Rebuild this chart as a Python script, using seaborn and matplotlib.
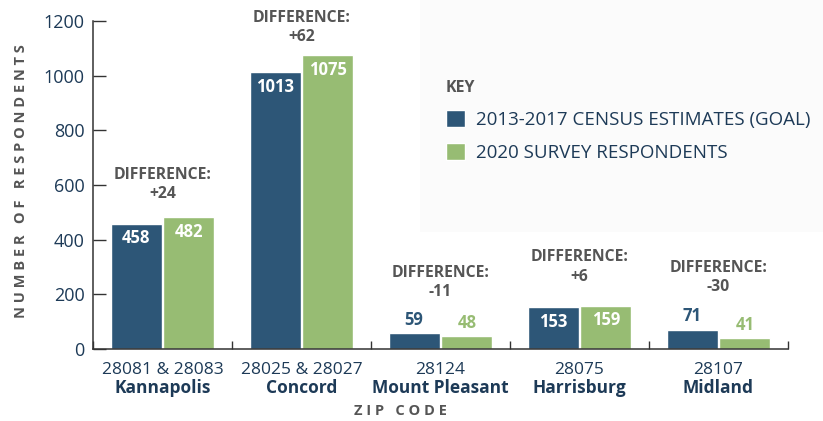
import matplotlib
matplotlib.use("Agg")
import pandas as pd
import matplotlib.pyplot as plt
import seaborn as sns
from matplotlib.patches import Rectangle
from matplotlib.transforms import blended_transform_factory


# ==========================
# data
# ==========================
zip_codes = ["28081 & 28083", "28025 & 28027", "28124", "28075", "28107"]
cities = ["Kannapolis", "Concord", "Mount Pleasant", "Harrisburg", "Midland"]
census_goal = [458, 1013, 59, 153, 71]
survey_2020 = [482, 1075, 48, 159, 41]
series_names = ["2013-2017 CENSUS ESTIMATES (GOAL)", "2020 SURVEY RESPONDENTS"]
y_ticks = [0, 200, 400, 600, 800, 1000, 1200]

# layout: where the "DIFFERENCE" notes sit (data units)
diff_label_y = [602, 1176, 243, 300, 262]

df = pd.DataFrame({
    "zip": zip_codes * 2,
    "count": census_goal + survey_2020,
    "series": [series_names[0]] * len(zip_codes) + [series_names[1]] * len(zip_codes),
})

# ==========================
# style
# ==========================
sns.set_theme(style="white")
plt.rcParams["font.family"] = ["Open Sans", "DejaVu Sans"]

navy = "#1d3a57"
blue = "#2d5677"
green = "#97bc73"
grey = "#555555"

fig = plt.figure(figsize=(8.23, 4.21), dpi=100)
fig.patch.set_facecolor("white")
fig.add_artist(Rectangle((420 / 823, 1 - 232 / 421), 403 / 823, 232 / 421,
                         transform=fig.transFigure, facecolor="#fbfbfb",
                         edgecolor="none", zorder=-10))

ax = fig.add_axes([93 / 823, 72 / 421, 695 / 823, 328 / 421])
ax.patch.set_alpha(0)

sns.barplot(data=df, x="zip", y="count", hue="series", palette=[blue, green],
            width=0.76, gap=0.035, saturation=1, ax=ax)

handles, labels = ax.get_legend_handles_labels()
ax.legend_.remove()

# value labels
for cont, col in zip(ax.containers, [blue, green]):
    for bar in cont:
        h = bar.get_height()
        xc = bar.get_x() + bar.get_width() / 2
        if h > 100:
            ax.annotate(f"{h:.0f}", (xc, h), xytext=(0, -4), textcoords="offset points",
                        ha="center", va="top", color="white", fontsize=12, fontweight="bold")
        else:
            ax.annotate(f"{h:.0f}", (xc, h), xytext=(0, 3), textcoords="offset points",
                        ha="center", va="bottom", color=col, fontsize=12, fontweight="bold")

# difference notes
for i, (a, b) in enumerate(zip(census_goal, survey_2020)):
    d = b - a
    ax.text(i, diff_label_y[i], f"DIFFERENCE:\n{d:+d}", ha="center", va="center",
            color=grey, fontsize=11.3, fontweight="bold", linespacing=1.3)

# axes
ax.set_xlim(-0.5, len(zip_codes) - 0.5)
ax.set_ylim(0, 1200)
ax.set_yticks(y_ticks)
ax.tick_params(axis="y", direction="in", length=9, width=1, color="#333333",
               labelsize=13, labelcolor=navy, pad=6, left=True)
ax.set_xticks(range(len(zip_codes)))
ax.set_xticklabels(zip_codes)
ax.tick_params(axis="x", which="major", length=0, labelsize=12.5, labelcolor=navy, pad=9)
ax.set_xticks([i - 0.5 for i in range(len(zip_codes) + 1)], minor=True)
ax.tick_params(axis="x", which="minor", direction="in", length=6, width=1,
               color="#333333", bottom=True)

for s in ["top", "right"]:
    ax.spines[s].set_visible(False)
for s in ["left", "bottom"]:
    ax.spines[s].set_color("#333333")
    ax.spines[s].set_linewidth(1.1)

ax.set_xlabel("")
ax.set_ylabel("")

tr = blended_transform_factory(ax.transData, ax.transAxes)
for i, c in enumerate(cities):
    ax.text(i, -0.118, c, transform=tr, ha="center", va="center",
            color=navy, fontsize=12.5, fontweight="bold")

fig.text(21 / 823, 1 - 181 / 421, "   ".join(" ".join(w) for w in "NUMBER OF RESPONDENTS".split()),
         rotation=90, ha="center", va="center", color=grey, fontsize=10.5, fontweight="bold")
fig.text(400 / 823, 1 - 411 / 421, "   ".join(" ".join(w) for w in "ZIP CODE".split()),
         ha="center", va="center", color=grey, fontsize=10.5, fontweight="bold")

leg = fig.legend(handles, labels, loc="upper left", bbox_to_anchor=(429 / 823, 1 - 63 / 421),
                 frameon=False, fontsize=13.5, handlelength=1.0, handleheight=1.0,
                 handletextpad=0.6, labelspacing=0.75, title="KEY", alignment="left",
                 title_fontproperties={"weight": "bold", "size": 11.5})
leg.get_title().set_color(grey)
for t in leg.get_texts():
    t.set_color(navy)

fig.savefig("out.png", dpi=100)
